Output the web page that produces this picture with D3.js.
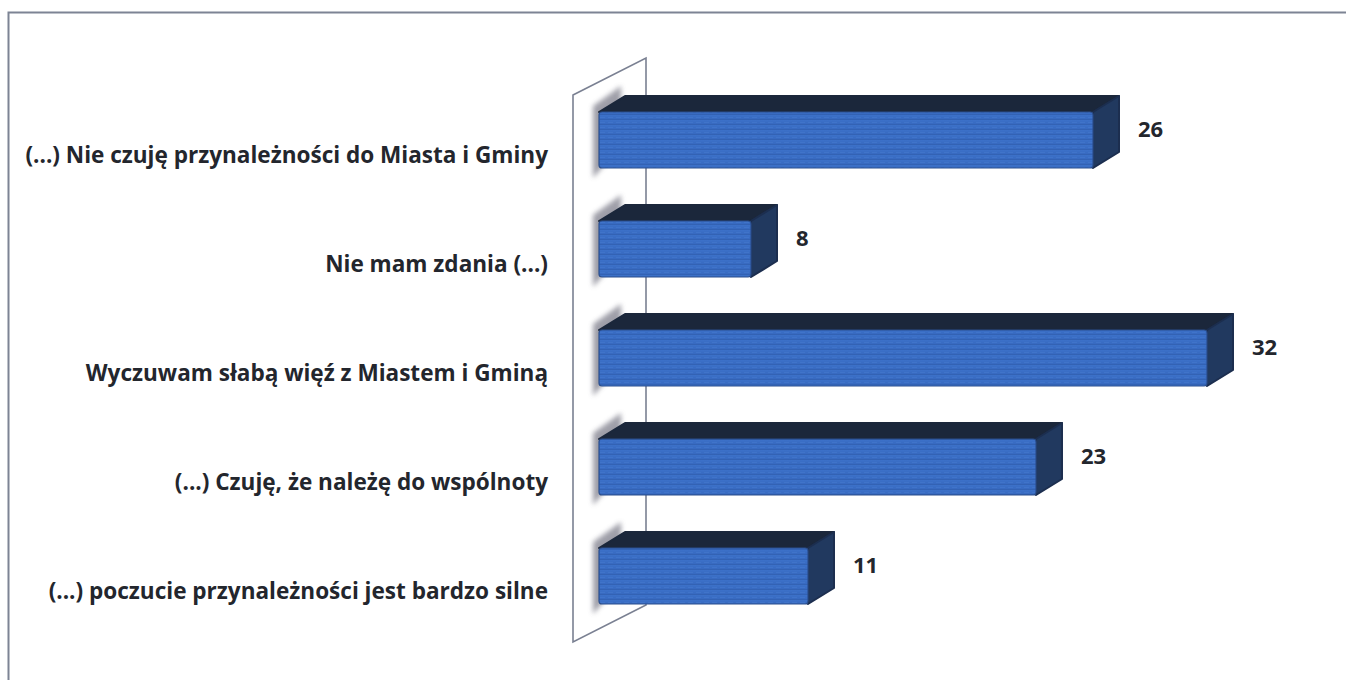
<!DOCTYPE html>
<html>
<head>
<meta charset="utf-8">
<script src="https://cdn.jsdelivr.net/npm/d3@7"></script>
<style>
  html, body { margin: 0; padding: 0; background: #fff; }
  svg { display: block; }
</style>
</head>
<body>
<div id="chart"></div>
<script>
const categories = [
  "(...) Nie czuję przynależności do Miasta i Gminy",
  "Nie mam zdania (...)",
  "Wyczuwam słabą więź z Miastem i Gminą",
  "(...) Czuję, że należę do wspólnoty",
  "(...) poczucie przynależności jest bardzo silne",
];
const values = [26, 8, 32, 23, 11];

const width = 1346;
const height = 680;
const depth = { dx: 26, dy: -16 };
const wallDepth = { dx: 73, dy: -37 };
const labelFont = "'Open Sans', Lato, sans-serif";

const svg = d3.select("#chart").append("svg").attr("width", width).attr("height", height);

const defs = svg.append("defs");
defs.append("filter").attr("id", "blur").attr("x", "-50%").attr("y", "-50%").attr("width", "200%").attr("height", "200%")
  .append("feGaussianBlur").attr("stdDeviation", 2.5);

const frontGrad = defs.append("linearGradient").attr("id", "front").attr("x1", 0).attr("y1", 0).attr("x2", 0).attr("y2", 1);
frontGrad.append("stop").attr("offset", "0%").attr("stop-color", "#3c71c9");
frontGrad.append("stop").attr("offset", "85%").attr("stop-color", "#3769bf");
frontGrad.append("stop").attr("offset", "100%").attr("stop-color", "#2b559e");

// subtle print texture
const pat = defs.append("pattern").attr("id", "tex").attr("width", 8).attr("height", 5).attr("patternUnits", "userSpaceOnUse");
pat.append("rect").attr("width", 8).attr("height", 5).attr("fill", "url(#front)");
pat.append("line").attr("x1", 0).attr("x2", 5).attr("y1", 2.5).attr("y2", 2.5).attr("stroke", "#4a80d2").attr("stroke-width", 1).attr("opacity", 0.4);

// frame
svg.append("path")
  .attr("d", `M8.5,${height} L8.5,12.5 L${width},12.5`)
  .attr("fill", "none").attr("stroke", "#7d8494").attr("stroke-width", 2);

const x = d3.scaleLinear().domain([0, 32]).range([599, 1207]);
const y = d3.scaleBand().domain(categories).range([57.5, 658.5]).paddingInner(0.486).paddingOuter(0.5);

// side wall
const wallX = 573, wallTop = 95, wallBottom = 642;
svg.append("path")
  .attr("d", `M${wallX},${wallTop} L${wallX + wallDepth.dx},${wallTop + wallDepth.dy} L${wallX + wallDepth.dx},${wallBottom + wallDepth.dy} L${wallX},${wallBottom} Z`)
  .attr("fill", "#fff").attr("stroke", "#7a8092").attr("stroke-width", 1.6);

const bars = svg.append("g").selectAll("g").data(values).join("g");

// shadow on the wall
bars.append("path")
  .attr("d", (d, i) => {
    const y0 = y(categories[i]), h = y.bandwidth();
    const x0 = x(0) - 6;
    return `M${x0},${y0 - 6} L${x0 + depth.dx + 2},${y0 + depth.dy - 10} L${x0 + depth.dx + 2},${y0 + h + depth.dy - 6} L${x0},${y0 + h + 10} Z`;
  })
  .attr("fill", "#8e8e9a").attr("opacity", 0.85).attr("filter", "url(#blur)");

// top face
bars.append("path")
  .attr("d", (d, i) => {
    const y0 = y(categories[i]);
    return `M${x(0)},${y0} L${x(0) + depth.dx},${y0 + depth.dy} L${x(d) + depth.dx},${y0 + depth.dy} L${x(d)},${y0} Z`;
  })
  .attr("fill", "#1b273b").attr("stroke", "#1b273b").attr("stroke-linejoin", "round").attr("stroke-width", 2);

// right face
bars.append("path")
  .attr("d", (d, i) => {
    const y0 = y(categories[i]), h = y.bandwidth();
    return `M${x(d)},${y0} L${x(d) + depth.dx},${y0 + depth.dy} L${x(d) + depth.dx},${y0 + h + depth.dy} L${x(d)},${y0 + h} Z`;
  })
  .attr("fill", "#21395f").attr("stroke", "#1c2e4f").attr("stroke-linejoin", "round").attr("stroke-width", 2);

// front face
bars.append("rect")
  .attr("x", x(0))
  .attr("y", (d, i) => y(categories[i]))
  .attr("width", (d) => x(d) - x(0))
  .attr("height", y.bandwidth())
  .attr("rx", 3)
  .attr("fill", "url(#tex)")
  .attr("stroke", "#2b4f8e").attr("stroke-width", 1.2);

// value labels
bars.append("text")
  .attr("x", (d) => x(d) + depth.dx + 19)
  .attr("y", (d, i) => y(categories[i]) + 19)
  .attr("dominant-baseline", "middle")
  .attr("font-family", labelFont)
  .attr("font-weight", "bold")
  .attr("font-size", 22)
  .attr("fill", "#23262d")
  .text((d) => d);

// category labels
const labels = svg.append("g").selectAll("text").data(categories).join("text")
  .attr("x", 548)
  .attr("y", (d) => y(d) + y.bandwidth() / 2 + 17)
  .attr("text-anchor", "end")
  .attr("dominant-baseline", "middle")
  .attr("font-family", labelFont)
  .attr("font-weight", "bold")
  .attr("font-size", 20)
  .attr("fill", "#23262d")
  .text((d) => d);

// fit the longest label to the width seen in the picture (x 25 .. 548)
const longest = d3.max(labels.nodes(), (n) => n.getComputedTextLength());
labels.attr("font-size", 20 * 523 / longest);
</script>
</body>
</html>
